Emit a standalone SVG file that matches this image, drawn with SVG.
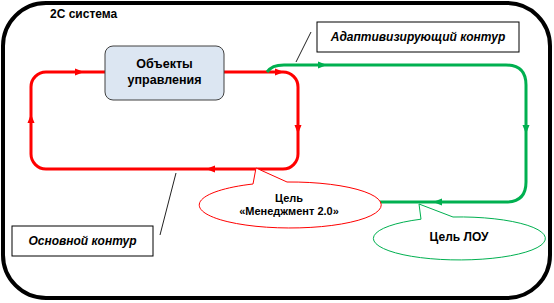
<svg xmlns="http://www.w3.org/2000/svg" xmlns:xlink="http://www.w3.org/1999/xlink" width="554" height="303" viewBox="0 0 554 303">
<style>
.t{font-family:"Liberation Sans",Arial,sans-serif;font-weight:bold;fill:#000}
.i{font-style:italic}
.red{fill:none;stroke:#ff0000;stroke-width:3}
.grn{fill:none;stroke:#00b050;stroke-width:3}
.lead{stroke:#222;stroke-width:1;fill:none}
.lbl{fill:#fff;stroke:#000;stroke-width:1}
</style>
<defs>
<path id="ah" d="M-5,-3.5 L4,0 L-5,3.5 Z"/>
</defs>
<rect x="0" y="0" width="554" height="303" fill="#fff"/>
<g id="system">
<rect x="3" y="3" width="547" height="295" rx="43" fill="#fff" stroke="#000" stroke-width="4"/>
<text class="t" x="50" y="18" font-size="12">2С система</text>
</g>
<g id="connectors">
<rect class="red" x="31" y="72" width="267" height="97" rx="15"/>
<path class="grn" d="M267,72 C271,67 275,65 284,65 L506,65 Q526,65 526,85 L526,182 Q526,202 506,202 L380,202"/>
<g fill="#ff0000">
<use xlink:href="#ah" transform="translate(80,72)"/>
<use xlink:href="#ah" transform="translate(280,72)"/>
<use xlink:href="#ah" transform="translate(298,130) rotate(90)"/>
<use xlink:href="#ah" transform="translate(210,169) rotate(180)"/>
<use xlink:href="#ah" transform="translate(31,118) rotate(-90)"/>
</g>
<g fill="#00b050">
<use xlink:href="#ah" transform="translate(323,65)"/>
<use xlink:href="#ah" transform="translate(526,130) rotate(90)"/>
<use xlink:href="#ah" transform="translate(437,202) rotate(180)"/>
</g>
<line class="lead" x1="311" y1="32" x2="296" y2="62"/>
<line class="lead" x1="160" y1="235" x2="176" y2="173"/>
</g>
<g id="objects">
<rect x="105" y="46" width="119" height="54" rx="8" fill="#dce6f2" stroke="#404040" stroke-width="1"/>
<text class="t" x="164.5" y="68" font-size="12.5" text-anchor="middle">Объекты</text>
<text class="t" x="164.5" y="84" font-size="12.5" text-anchor="middle">управления</text>
</g>
<g id="adaptive-label">
<rect class="lbl" x="317" y="22" width="202" height="30"/>
<text class="t i" x="418" y="41" font-size="12" text-anchor="middle">Адаптивизирующий контур</text>
</g>
<g id="main-label">
<rect class="lbl" x="12" y="226" width="141" height="30"/>
<text class="t i" x="82.5" y="245" font-size="12" text-anchor="middle">Основной контур</text>
</g>
<g id="goal-management">
<path d="M287,182 A91,23 0 1 1 253,184 L256,168 Z" fill="#fff" stroke="#ff0000" stroke-width="1"/>
<text class="t" x="289" y="202" font-size="11" text-anchor="middle">Цель</text>
<text class="t" x="289" y="215" font-size="11" text-anchor="middle">«Менеджмент 2.0»</text>
</g>
<g id="goal-lou">
<path d="M453,217 A86,21.5 0 1 1 421,219.2 L419,204 Z" fill="#fff" stroke="#00b050" stroke-width="1"/>
<text class="t" x="459" y="241" font-size="12" text-anchor="middle">Цель ЛОУ</text>
</g>
</svg>
